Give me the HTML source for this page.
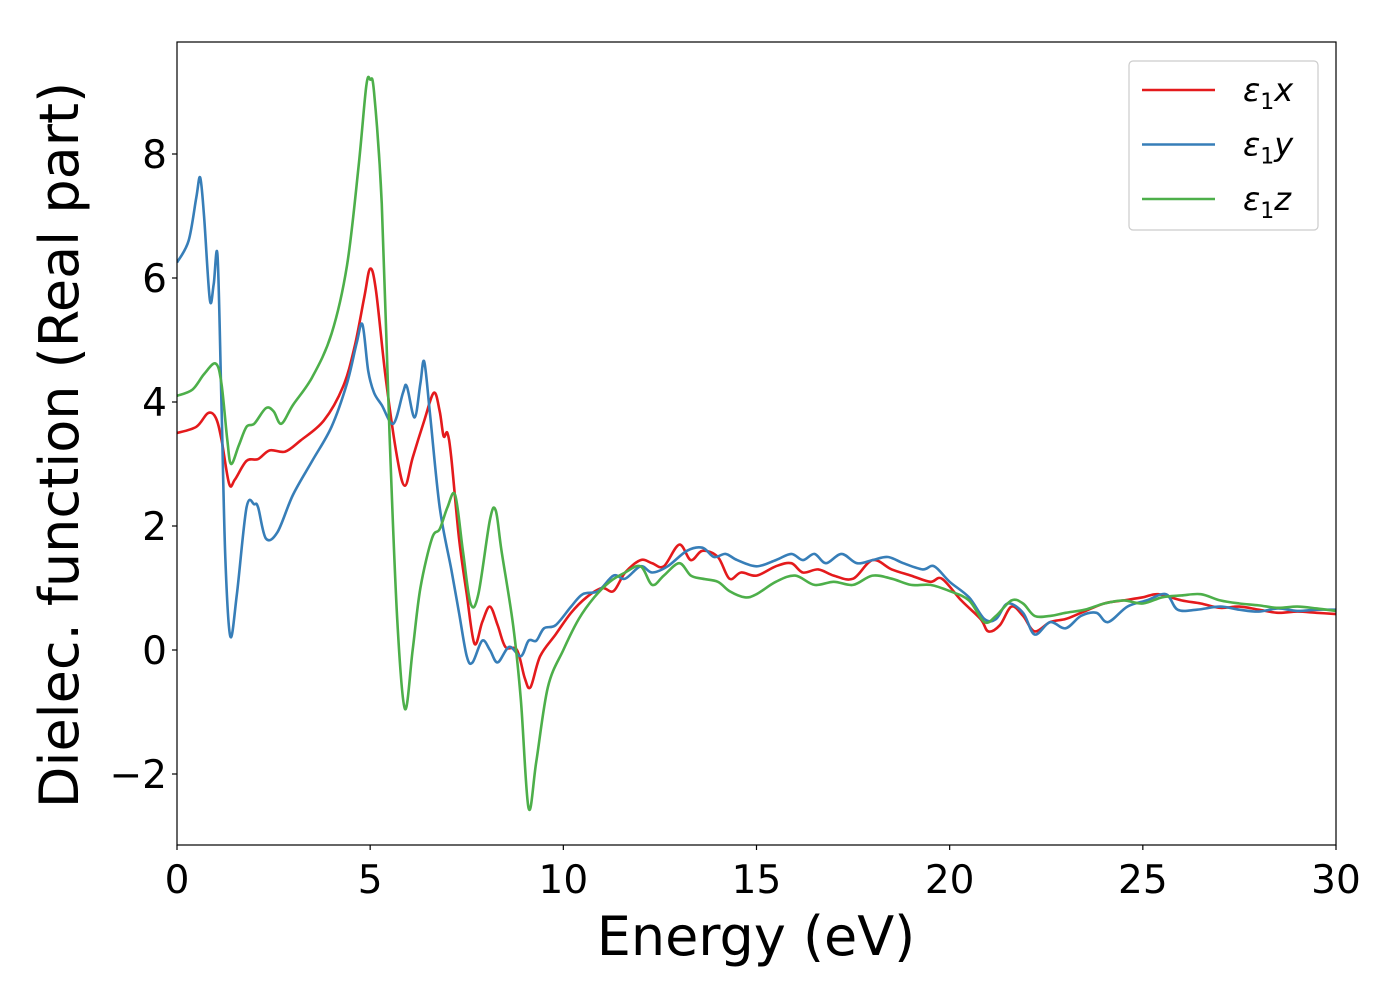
<!DOCTYPE html>
<html><head><meta charset="utf-8"><style>
body{margin:0;background:#fff}
svg text{font-family:"DejaVu Sans","Liberation Sans",sans-serif}
</style></head><body>
<svg width="1400" height="1000" xmlns="http://www.w3.org/2000/svg">
<g id="plot"></g>
</svg>
<script>
const energyX=[0,0.5,0.8,1.0,1.15,1.35,1.5,1.8,2.1,2.4,2.8,3.2,3.8,4.3,4.6,4.85,5.0,5.15,5.4,5.7,5.9,6.1,6.4,6.65,6.8,6.9,7.0,7.1,7.3,7.5,7.7,7.9,8.1,8.3,8.5,8.8,9.0,9.15,9.4,9.8,10.2,10.6,11.0,11.3,11.6,12.0,12.3,12.6,13.0,13.3,13.6,14.0,14.3,14.6,15.0,15.5,15.9,16.2,16.6,17.0,17.5,18.0,18.5,19.0,19.5,19.8,20.3,20.8,21.0,21.3,21.6,21.9,22.2,22.6,23.0,23.4,24.0,24.5,25.0,25.4,26.0,26.5,27.0,27.5,28.0,28.5,29.0,29.5,30];
const eps1x=[3.5,3.6,3.82,3.75,3.4,2.68,2.75,3.05,3.08,3.22,3.2,3.38,3.7,4.25,4.9,5.7,6.15,5.8,4.4,3.1,2.65,3.1,3.7,4.15,3.85,3.45,3.5,3.1,1.8,0.9,0.1,0.45,0.7,0.4,0.05,0.0,-0.45,-0.6,-0.1,0.25,0.6,0.85,1.0,0.95,1.25,1.45,1.4,1.35,1.7,1.45,1.6,1.5,1.15,1.25,1.2,1.35,1.4,1.25,1.3,1.2,1.15,1.45,1.3,1.2,1.1,1.15,0.8,0.5,0.3,0.4,0.7,0.55,0.3,0.45,0.5,0.6,0.75,0.8,0.85,0.9,0.8,0.75,0.68,0.7,0.65,0.6,0.62,0.6,0.58];
const energyY=[0,0.3,0.5,0.6,0.7,0.85,0.95,1.05,1.15,1.25,1.38,1.55,1.8,2.0,2.1,2.3,2.6,3.0,3.5,4.0,4.4,4.65,4.8,4.95,5.1,5.3,5.6,5.85,5.95,6.15,6.3,6.4,6.55,6.8,7.1,7.3,7.5,7.65,7.9,8.1,8.3,8.6,8.9,9.1,9.3,9.5,9.8,10.2,10.5,10.9,11.3,11.6,12.0,12.3,12.7,13.2,13.6,13.9,14.2,14.5,15.0,15.5,15.9,16.2,16.5,16.8,17.2,17.6,18.0,18.4,18.8,19.3,19.6,20.0,20.5,20.9,21.2,21.5,21.9,22.2,22.6,23.0,23.4,23.8,24.1,24.6,25.1,25.6,25.9,26.4,27.0,27.5,28.0,28.5,29.0,29.5,30];
const eps1y=[6.25,6.6,7.3,7.62,7.0,5.65,5.9,6.35,4.0,1.5,0.22,0.9,2.3,2.35,2.3,1.8,1.9,2.5,3.05,3.6,4.3,4.95,5.25,4.5,4.15,3.95,3.65,4.15,4.25,3.75,4.3,4.65,3.8,2.3,1.3,0.6,-0.1,-0.2,0.15,0.0,-0.2,0.05,-0.1,0.15,0.15,0.35,0.4,0.7,0.9,0.95,1.2,1.15,1.35,1.25,1.35,1.6,1.65,1.5,1.55,1.45,1.35,1.45,1.55,1.45,1.55,1.4,1.55,1.4,1.45,1.5,1.4,1.3,1.35,1.1,0.85,0.5,0.5,0.75,0.6,0.25,0.45,0.35,0.55,0.6,0.45,0.7,0.8,0.9,0.65,0.65,0.7,0.65,0.62,0.67,0.63,0.65,0.65];
const energyZ=[0,0.4,0.7,1.0,1.15,1.3,1.4,1.6,1.8,2.0,2.3,2.5,2.7,3.0,3.5,4.0,4.4,4.7,4.9,5.0,5.1,5.3,5.5,5.7,5.9,6.1,6.3,6.6,6.8,7.0,7.2,7.4,7.6,7.8,8.1,8.25,8.4,8.7,8.9,9.1,9.3,9.6,10.0,10.4,10.8,11.2,11.6,12.0,12.3,12.6,13.0,13.3,13.6,14.0,14.3,14.7,15.0,15.5,16.0,16.5,17.0,17.5,18.0,18.5,19.0,19.5,20.0,20.5,20.9,21.2,21.6,21.9,22.2,22.6,23.0,23.5,24.0,24.5,25.0,25.5,26.0,26.5,27.0,27.5,28.0,28.5,29.0,29.5,30];
const eps1z=[4.1,4.2,4.45,4.62,4.3,3.4,3.0,3.3,3.6,3.65,3.9,3.85,3.65,3.95,4.4,5.1,6.2,7.8,9.1,9.2,9.0,7.2,3.5,0.5,-0.95,0.0,1.0,1.8,1.95,2.3,2.5,1.6,0.75,0.9,2.1,2.25,1.6,0.4,-0.8,-2.55,-1.8,-0.6,0.0,0.5,0.85,1.1,1.25,1.35,1.05,1.2,1.4,1.2,1.15,1.1,0.95,0.85,0.9,1.1,1.2,1.05,1.1,1.05,1.2,1.15,1.05,1.05,0.95,0.8,0.45,0.55,0.8,0.75,0.55,0.55,0.6,0.65,0.75,0.8,0.75,0.85,0.88,0.9,0.8,0.75,0.72,0.68,0.7,0.67,0.63];
const xTicks=[0,5,10,15,20,25,30];
const yTicks=[-2,0,2,4,6,8];
const seriesLabels=["x","y","z"];

const NS="http://www.w3.org/2000/svg";
const L=177,R=1336,T=42,B=845;
const sx=v=>L+(v-0)/30*(R-L);
const sy=v=>650-v*62;
const g=document.getElementById('plot');
function mk(tag,attrs){const e=document.createElementNS(NS,tag);for(const k in attrs)e.setAttribute(k,attrs[k]);g.appendChild(e);return e;}
function smooth(xs,ys){
  const p=xs.map((x,i)=>[sx(x),sy(ys[i])]);
  let d=`M${p[0][0]},${p[0][1]}`;
  for(let i=0;i<p.length-1;i++){
    const p0=p[Math.max(0,i-1)],p1=p[i],p2=p[i+1],p3=p[Math.min(p.length-1,i+2)];
    const c1=[p1[0]+(p2[0]-p0[0])/6,p1[1]+(p2[1]-p0[1])/6];
    const c2=[p2[0]-(p3[0]-p1[0])/6,p2[1]-(p3[1]-p1[1])/6];
    d+=`C${c1[0]},${c1[1]} ${c2[0]},${c2[1]} ${p2[0]},${p2[1]}`;
  }
  return d;
}
const defs=mk('defs',{});
const cp=document.createElementNS(NS,'clipPath');cp.setAttribute('id','clip');defs.appendChild(cp);
const cr=document.createElementNS(NS,'rect');cr.setAttribute('x',L);cr.setAttribute('y',T);cr.setAttribute('width',R-L);cr.setAttribute('height',B-T);cp.appendChild(cr);

const series=[[energyX,eps1x,'#e41a1c'],[energyY,eps1y,'#377eb8'],[energyZ,eps1z,'#4daf4a']];
series.forEach((s,i)=>{
  const p=mk('path',{d:smooth(s[0],s[1]),fill:'none',stroke:s[2],'stroke-width':2.6,'clip-path':'url(#clip)'});
  
  
});
const frame=mk('rect',{x:L,y:T,width:R-L,height:B-T,fill:'none',stroke:'#000','stroke-width':1.2});


xTicks.forEach(v=>{
  const t=mk('line',{x1:sx(v),x2:sx(v),y1:B,y2:B+5,stroke:'#000','stroke-width':1.2});
  
  
  const l=mk('text',{x:sx(v),y:893,'font-size':39,'text-anchor':'middle'});
  l.textContent=v;
  
  
});
yTicks.forEach(v=>{
  const t=mk('line',{x1:L-5,x2:L,y1:sy(v),y2:sy(v),stroke:'#000','stroke-width':1.2});
  
  
  const l=mk('text',{x:167,y:sy(v)+14,'font-size':39,'text-anchor':'end'});
  l.textContent=v<0?'\u2212'+(-v):v;
  
  
});
const xt=mk('text',{x:756,y:955,'font-size':54,'text-anchor':'middle'});
xt.textContent='Energy (eV)';


const yt=mk('text',{x:0,y:0,'font-size':54,'text-anchor':'middle',transform:'translate(78,445) rotate(-90)'});
yt.textContent='Dielec. function (Real part)';


const lg=mk('rect',{x:1129,y:61,width:189,height:169,rx:4,fill:'#fff',stroke:'#ccc','stroke-width':1.2});


series.forEach((s,i)=>{
  const y=90+i*54.5;
  const ln=mk('line',{x1:1142,x2:1215,y1:y,y2:y,stroke:s[2],'stroke-width':2.6});
  
  
  const tx=mk('text',{x:1243,y:y+11,'font-size':32,'font-style':'italic'});
  tx.innerHTML='ε<tspan font-style="normal" font-size="22" dy="8">1</tspan><tspan dy="-8">'+seriesLabels[i]+'</tspan>';
  
  
});
</script>
</body></html>
